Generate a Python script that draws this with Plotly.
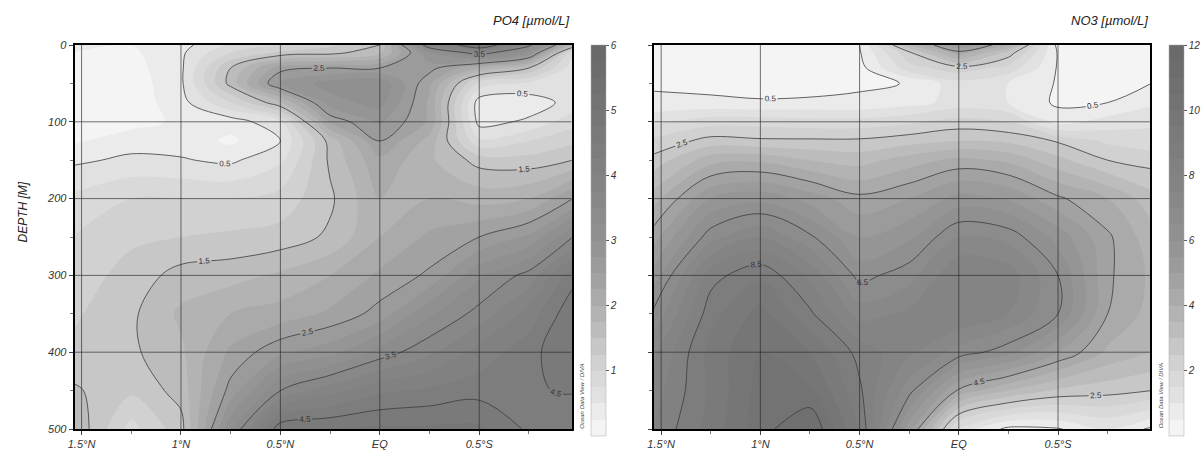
import plotly.graph_objects as go

# Section grid: latitude (deg, north positive) and depth (m)
LAT = [1.55, 1.25, 1.0, 0.75, 0.5, 0.25, 0.0, -0.25, -0.5, -0.75, -0.97]
DEPTH = [0, 10, 30, 50, 75, 100, 125, 150, 200, 250, 300, 350, 400, 450, 500]

# Phosphate [umol/L], one row per depth, columns follow LAT
PO4 = [
    [0.30, 0.25, 0.40, 0.80, 1.00, 1.20, 1.50, 3.80, 5.00, 3.60, 1.80],
    [0.25, 0.20, 0.45, 1.00, 1.30, 1.40, 1.70, 3.00, 3.70, 3.00, 0.80],
    [0.20, 0.15, 0.45, 1.50, 2.40, 2.50, 2.50, 2.60, 2.00, 1.50, 0.60],
    [0.15, 0.10, 0.45, 1.60, 2.80, 3.10, 3.20, 2.30, 0.90, 0.70, 0.60],
    [0.15, 0.10, 0.40, 1.00, 1.70, 2.90, 3.10, 2.20, 0.35, 0.35, 0.60],
    [0.15, 0.15, 0.30, 0.35, 0.70, 2.30, 2.80, 2.20, 0.40, 0.55, 0.90],
    [0.20, 0.40, 0.40, 0.20, 0.50, 1.60, 2.50, 1.90, 0.80, 1.00, 1.20],
    [0.45, 0.55, 0.52, 0.45, 0.70, 1.55, 2.20, 1.80, 1.40, 1.35, 1.50],
    [0.80, 1.00, 1.00, 1.00, 1.10, 1.45, 2.00, 2.00, 1.90, 2.00, 2.50],
    [1.00, 1.20, 1.25, 1.30, 1.35, 1.55, 2.00, 2.30, 2.50, 2.80, 3.50],
    [1.10, 1.35, 1.60, 1.65, 1.80, 2.00, 2.30, 2.55, 3.20, 3.60, 4.40],
    [1.20, 1.45, 1.80, 2.00, 2.10, 2.30, 2.60, 3.20, 3.60, 4.10, 4.70],
    [1.30, 1.45, 1.70, 2.30, 2.70, 2.90, 3.35, 3.70, 4.10, 4.40, 4.75],
    [1.55, 1.30, 1.60, 2.60, 3.50, 3.90, 4.20, 4.30, 4.40, 4.48, 4.52],
    [1.75, 0.90, 1.40, 3.20, 4.70, 4.75, 4.80, 4.80, 4.80, 4.45, 4.30],
]

# Nitrate [umol/L], one row per depth, columns follow LAT
NO3 = [
    [0.35, 0.30, 0.20, 0.10, 0.50, 3.50, 5.50, 4.00, 0.30, 0.20, 0.20],
    [0.35, 0.30, 0.15, 0.10, 0.45, 2.40, 4.30, 2.80, 0.45, 0.15, 0.20],
    [0.40, 0.35, 0.20, 0.15, 0.30, 1.80, 2.30, 1.80, 0.45, 0.15, 0.25],
    [0.40, 0.35, 0.30, 0.25, 0.42, 0.52, 1.30, 1.00, 0.45, 0.15, 0.50],
    [0.65, 0.60, 0.55, 0.60, 0.60, 0.80, 1.20, 1.00, 0.40, 0.50, 0.90],
    [1.35, 1.80, 1.80, 1.70, 1.70, 1.90, 2.20, 2.00, 0.80, 1.20, 1.40],
    [2.10, 2.70, 2.60, 2.60, 2.60, 2.80, 3.00, 2.90, 2.45, 1.90, 1.70],
    [2.65, 3.80, 3.90, 3.50, 3.30, 3.75, 4.15, 3.90, 3.15, 2.50, 2.30],
    [3.70, 5.50, 5.85, 5.30, 4.65, 5.00, 5.70, 5.45, 4.60, 4.00, 3.20],
    [4.70, 6.80, 7.50, 6.60, 5.50, 5.90, 7.00, 6.80, 5.80, 4.60, 3.70],
    [5.60, 8.30, 8.90, 7.90, 6.30, 6.80, 8.00, 7.80, 6.50, 4.60, 3.90],
    [6.50, 8.80, 9.70, 8.60, 7.30, 7.60, 8.00, 7.50, 6.50, 4.50, 3.80],
    [7.30, 9.20, 10.00, 9.50, 8.30, 7.60, 6.80, 6.20, 5.00, 3.90, 3.50],
    [7.70, 9.10, 10.20, 10.10, 8.60, 6.70, 4.40, 3.50, 2.90, 2.70, 2.50],
    [8.00, 9.20, 10.30, 11.00, 9.00, 5.20, 1.30, 0.35, 0.45, 1.00, 0.40],
]

LAT_TICKS = [1.5, 1.0, 0.5, 0.0, -0.5]
LAT_LABELS = ["1.5°N", "1°N", "0.5°N", "EQ", "0.5°S"]
LAT_MINOR = [1.25, 0.75, 0.25, -0.25, -0.75]
DEPTH_TICKS = [0, 100, 200, 300, 400, 500]
DEPTH_MINOR = [50, 150, 250, 350, 450]
PO4_CBAR_TICKS = [1, 2, 3, 4, 5, 6]
NO3_CBAR_TICKS = [2, 4, 6, 8, 10, 12]

PO4_TITLE = "PO4 [µmol/L]"
NO3_TITLE = "NO3 [µmol/L]"
DEPTH_TITLE = "DEPTH [M]"
CREDIT = "Ocean Data View / DIVA"

# Grey palette (light for low concentration, dark for high)
GREYS = [
    [0.00, "#f8f8f8"],
    [0.05, "#eeeeee"],
    [0.10, "#e2e2e2"],
    [0.20, "#cecece"],
    [0.30, "#b5b5b5"],
    [0.40, "#a1a1a1"],
    [0.50, "#929292"],
    [0.65, "#848484"],
    [0.80, "#777777"],
    [1.00, "#686868"],
]

W, H = 1201, 450
M_T, M_B = 45, 20
PLOT_H = H - M_T - M_B
FONT = "Liberation Sans, Arial, sans-serif"

X_RANGE = [1.535, -0.965]
DOMAINS = [[68 / W, 568 / W], [651 / W, 1150 / W]]
CBAR_X = [587 / W, 1169 / W]
CREDIT_X = [578 / W, 1161 / W]

fig = go.Figure()

panels = [
    (PO4, 6.0, 0.25, 0.5, 1.0, PO4_CBAR_TICKS, PO4_TITLE),
    (NO3, 12.0, 0.5, 0.5, 2.0, NO3_CBAR_TICKS, NO3_TITLE),
]

for i, (field, zmax, fill_step, line_start, line_step, cticks, title) in enumerate(panels):
    xa = "x" if i == 0 else "x2"
    ya = "y" if i == 0 else "y2"
    # filled bands
    fig.add_trace(go.Contour(
        x=LAT, y=DEPTH, z=field,
        xaxis=xa, yaxis=ya,
        colorscale=GREYS, zmin=0, zmax=zmax,
        autocontour=False,
        contours=dict(start=0, end=zmax, size=fill_step, coloring="fill", showlines=False),
        line=dict(width=0, smoothing=1.0),
        hoverinfo="skip",
        colorbar=dict(
            x=CBAR_X[i], xanchor="left", xref="paper", xpad=0,
            y=1.0, yanchor="top", len=391, lenmode="pixels", ypad=0,
            thickness=15, outlinewidth=0.5, outlinecolor="#aaaaaa",
            tickmode="array", tickvals=cticks,
            ticks="outside", ticklen=3, tickcolor="#555555",
            tickfont=dict(family=FONT, size=10, color="#333333", style="italic"),
        ),
    ))
    # labelled isolines
    fig.add_trace(go.Contour(
        x=LAT, y=DEPTH, z=field,
        xaxis=xa, yaxis=ya,
        autocontour=False,
        contours=dict(start=line_start, end=zmax, size=line_step, coloring="none",
                      showlabels=True, labelformat=".1f",
                      labelfont=dict(family=FONT, size=8, color="#333333")),
        line=dict(width=0.8, color="#3c3c3c", smoothing=1.0),
        showscale=False, hoverinfo="skip",
    ))

axis_common_x = dict(
    range=X_RANGE, tickmode="array", tickvals=LAT_TICKS, ticktext=LAT_LABELS,
    ticks="outside", ticklen=4, tickcolor="#444444",
    minor=dict(tickmode="array", tickvals=LAT_MINOR, ticks="outside", ticklen=3, tickcolor="#777777"),
    showgrid=False, zeroline=False, showline=True, linecolor="black", linewidth=2, mirror=True,
    tickfont=dict(family=FONT, size=11, color="#333333", style="italic"),
)
axis_common_y = dict(
    range=[500, 0], tickmode="array", tickvals=DEPTH_TICKS,
    ticks="outside", ticklen=4, tickcolor="#444444",
    minor=dict(tickmode="array", tickvals=DEPTH_MINOR, ticks="outside", ticklen=3, tickcolor="#777777"),
    showgrid=False, zeroline=False, showline=True, linecolor="black", linewidth=2, mirror=True,
    tickfont=dict(family=FONT, size=11, color="#333333", style="italic"),
)

fig.update_layout(
    width=W, height=H,
    margin=dict(l=0, r=0, t=M_T, b=M_B),
    paper_bgcolor="white", plot_bgcolor="white",
    showlegend=False,
    xaxis=dict(domain=DOMAINS[0], anchor="y", **axis_common_x),
    yaxis=dict(domain=[0, 1], anchor="x", **axis_common_y),
    xaxis2=dict(domain=DOMAINS[1], anchor="y2", **axis_common_x),
    yaxis2=dict(domain=[0, 1], anchor="x2", showticklabels=False, **axis_common_y),
)

# grid lines drawn over the filled section
shapes = []
for xa, ya in (("x", "y"), ("x2", "y2")):
    for lat in LAT_TICKS:
        shapes.append(dict(type="line", xref=xa, yref=ya, x0=lat, x1=lat,
                           y0=DEPTH_TICKS[0], y1=DEPTH_TICKS[-1], layer="above",
                           line=dict(color="rgba(40,40,40,0.65)", width=1)))
    for d in DEPTH_TICKS[1:-1]:
        shapes.append(dict(type="line", xref=xa, yref=ya, x0=X_RANGE[0], x1=X_RANGE[1],
                           y0=d, y1=d, layer="above",
                           line=dict(color="rgba(40,40,40,0.65)", width=1)))
fig.update_layout(shapes=shapes)

title_font = dict(family=FONT, size=13, color="#222222", style="italic")
annotations = [
    dict(text=PO4_TITLE, x=DOMAINS[0][1], y=(H - M_B - 20) / PLOT_H, xref="paper", yref="paper",
         xanchor="right", yanchor="middle", showarrow=False, font=title_font),
    dict(text=NO3_TITLE, x=DOMAINS[1][1], y=(H - M_B - 20) / PLOT_H, xref="paper", yref="paper",
         xanchor="right", yanchor="middle", showarrow=False, font=title_font),
    dict(text=DEPTH_TITLE, x=16 / W, y=(H - M_B - 212) / PLOT_H, xref="paper", yref="paper",
         xanchor="center", yanchor="middle", textangle=-90, showarrow=False,
         font=dict(family=FONT, size=12, color="#222222", style="italic")),
]
for cx in CREDIT_X:
    annotations.append(dict(text=CREDIT, x=cx, y=(H - M_B - 397) / PLOT_H, xref="paper", yref="paper",
                            xanchor="center", yanchor="middle", textangle=-90, showarrow=False,
                            font=dict(family=FONT, size=6, color="#444444", style="italic")))
fig.update_layout(annotations=annotations)

fig.write_html("out.html")
